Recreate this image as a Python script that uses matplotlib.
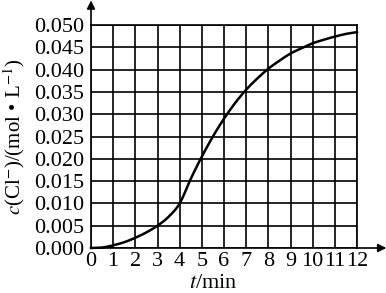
import numpy as np
import matplotlib
matplotlib.use("Agg")
import matplotlib.pyplot as plt

plt.rcParams['font.family'] = ['Liberation Serif', 'DejaVu Serif']
plt.rcParams['mathtext.fontset'] = 'stix'

t_min = [0, 0.5, 1, 1.5, 2, 2.5, 3, 3.5, 4, 4.5, 5, 5.5, 6, 6.5, 7, 7.5, 8,
         8.5, 9, 9.5, 10, 10.5, 11, 11.5, 12]
c_cl = [0.0, 0.0001, 0.0006, 0.0013, 0.0023, 0.0035, 0.0050, 0.0070, 0.0100,
        0.0155, 0.0205, 0.0250, 0.0290, 0.0325, 0.0355, 0.0380, 0.0402,
        0.0420, 0.0436, 0.0448, 0.0459, 0.0467, 0.0474, 0.0480, 0.0484]
x_ticks = list(range(0, 13))
y_ticks = [0.000, 0.005, 0.010, 0.015, 0.020, 0.025, 0.030, 0.035, 0.040,
           0.045, 0.050]
y_tick_labels = ["0.000", "0.005", "0.010", "0.015", "0.020", "0.025",
                 "0.030", "0.035", "0.040", "0.045", "0.050"]


def catmull_rom(xs, ys, n=12):
    xs = np.asarray(xs, float)
    ys = np.asarray(ys, float)
    px = np.concatenate([[2 * xs[0] - xs[1]], xs, [2 * xs[-1] - xs[-2]]])
    py = np.concatenate([[2 * ys[0] - ys[1]], ys, [2 * ys[-1] - ys[-2]]])
    outx, outy = [], []
    for i in range(1, len(px) - 2):
        s = np.linspace(0, 1, n, endpoint=False)
        for arr, out in ((px, outx), (py, outy)):
            p0, p1, p2, p3 = arr[i - 1], arr[i], arr[i + 1], arr[i + 2]
            out.extend(0.5 * ((2 * p1) + (-p0 + p2) * s
                              + (2 * p0 - 5 * p1 + 4 * p2 - p3) * s ** 2
                              + (-p0 + 3 * p1 - 3 * p2 + p3) * s ** 3))
    outx.append(xs[-1])
    outy.append(ys[-1])
    return np.array(outx), np.array(outy)


fig = plt.figure(figsize=(3.86, 2.93), dpi=100)
ax = fig.add_axes([91 / 386, 45 / 293, 266 / 386, 223 / 293])

ax.set_xlim(0, 12)
ax.set_ylim(0, 0.050)
ax.set_xticks(x_ticks)
ax.set_yticks(y_ticks)
ax.set_yticklabels(y_tick_labels)
ax.tick_params(length=0, labelsize=16, colors='black')
ax.tick_params(axis='y', pad=5)
ax.tick_params(axis='x', pad=3)
ax.grid(True, color='black', linewidth=1.2)
ax.set_axisbelow(True)
for side in ['top', 'right', 'left', 'bottom']:
    ax.spines[side].set_linewidth(1.2)
    ax.spines[side].set_color('black')

sx, sy = catmull_rom(t_min, c_cl)
ax.plot(sx, sy, color='black', linewidth=1.8, clip_on=False, zorder=3)

# axis arrows
ax.annotate('', xy=(1.11, 0), xycoords='axes fraction', xytext=(1.0, 0),
            arrowprops=dict(arrowstyle='-|>', color='black', lw=1.2,
                            mutation_scale=12, shrinkA=0, shrinkB=0))
ax.annotate('', xy=(0, 1.11), xycoords='axes fraction', xytext=(0, 1.0),
            arrowprops=dict(arrowstyle='-|>', color='black', lw=1.2,
                            mutation_scale=12, shrinkA=0, shrinkB=0))

ax.set_xlabel(r'$t$/min', fontsize=16)
ax.xaxis.set_label_coords(0.46, -0.115, transform=ax.transAxes)
ax.xaxis.label.set_verticalalignment('top')
ax.set_ylabel(r'$c$(Cl$^{-}$)/(mol • L$^{-1}$)', fontsize=15)
ax.yaxis.set_label_coords(-0.24, 0.5)

fig.savefig('out.png', dpi=100)
